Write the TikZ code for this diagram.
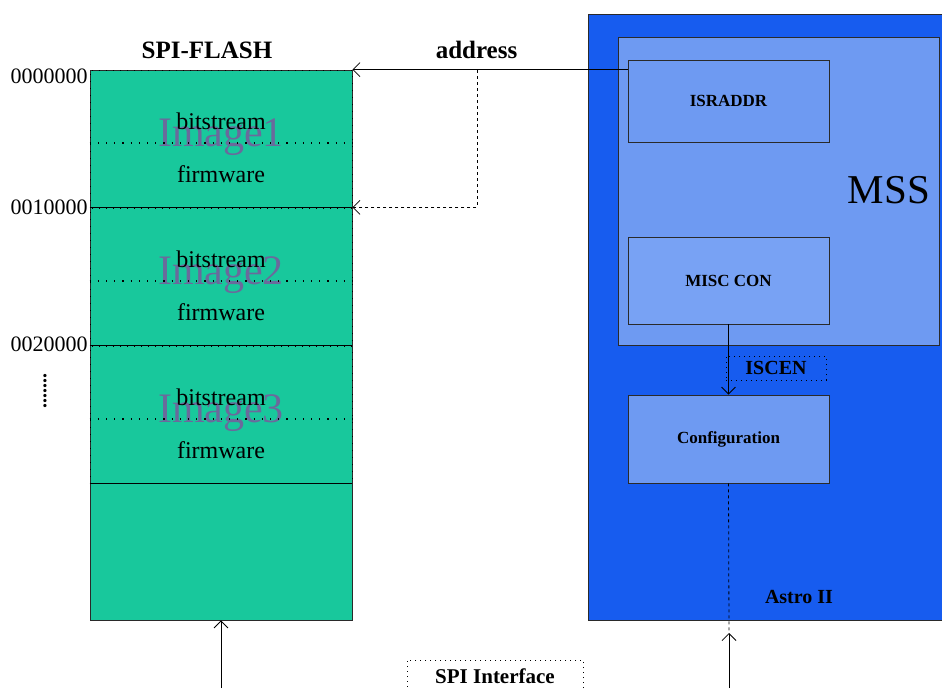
\documentclass[tikz,border=0pt]{standalone}
\usepackage{fontspec}
\setmainfont{Liberation Serif}
\usepackage{xcolor}
\usetikzlibrary{arrows.meta}

\definecolor{flashgreen}{HTML}{18C89C}
\definecolor{astroblue}{HTML}{175CEF}
\definecolor{mssblue}{HTML}{6E9AF2}
\definecolor{miscblue}{HTML}{78A2F4}
\definecolor{imggray}{HTML}{6A6A9C}
\definecolor{edgegray}{HTML}{2A2A2A}

\newcommand{\fs}[1]{\fontsize{#1}{#1}\selectfont}

\tikzset{
  barb/.style={-{Straight Barb[length=7pt,width=14pt,line width=0.8pt]}},
  block/.style={draw=edgegray, fill=mssblue, minimum width=201pt, minimum height=#1, inner sep=0pt, font=\fs{17}\bfseries},
  imgblock/.style={draw=black, dash pattern=on 1pt off 6pt, minimum width=262pt, minimum height=137pt, inner sep=0pt},
  tag/.style={draw=black, dash pattern=on 1pt off 4pt, inner sep=0pt, font=\fs{20}\bfseries},
  sparsedots/.style={line width=1.2pt, dash pattern=on 1.2pt off 7pt}
}

\begin{document}
\begin{tikzpicture}[x=1pt, y=-1pt, line width=0.8pt]
\useasboundingbox (0,0) rectangle (942,688);

% flash memory
\node[draw=edgegray, fill=flashgreen, minimum width=262pt, minimum height=550pt, inner sep=0pt] (flash) at (221,345) {};
\node[font=\fs{25}\bfseries] (flashtitle) at (207,50) {SPI-FLASH};

\foreach \i/\y in {1/138.5, 2/276.5, 3/414.5}{
  \node[imgblock] (img\i) at (221,\y) {};
  \node[text=imggray, font=\fs{42}] (imgname\i) at (221,\y-1.5) {Image\i};
  \draw[sparsedots] ([yshift=-4.5pt]img\i.west) -- ([yshift=-4.5pt]img\i.east);
  \draw (img\i.south west) -- (img\i.south east);
  \node[font=\fs{24}] (bits\i) at (221,\y-17.5) {bitstream};
  \node[font=\fs{24}] (firm\i) at (221,\y+35.5) {firmware};
}

\foreach \a/\y in {0000000/76, 0010000/207, 0020000/344}
  \node[anchor=east, font=\fs{22}, inner sep=1pt] (addr\y) at (89,\y) {\a};
\node[rotate=90, font=\fs{20}\bfseries] (more) at (45,391) {.......};

% Astro II device
\node[draw=edgegray, fill=astroblue, minimum width=356pt, minimum height=606pt, inner sep=0pt] (astro) at (766,317) {};
\node[font=\fs{20}\bfseries] (astrolabel) at (799,597) {Astro II};
\node[draw=edgegray, fill=mssblue, minimum width=321pt, minimum height=308pt, inner sep=0pt] (mss) at (778.5,191) {};
\node[font=\fs{41}] (msslabel) at (889,190) {MSS};

\node[block=82pt] (isr) at (728.5,101) {ISRADDR};
\node[block=87pt, fill=miscblue] (misc) at (728.5,280.5) {MISC CON};
\node[block=88pt] (conf) at (728.5,439) {Configuration};
\node[tag, minimum width=100pt, minimum height=24pt] (iscen) at (776,368) {ISCEN};

% connections
\draw[barb] (flash.north east -| isr.west) -- (flash.north east);
\node[font=\fs{25}\bfseries] (addrlabel) at (476.5,50) {address};
\coordinate (tap) at (477,70);
\draw[barb, dashed] (tap) |- (img1.south east);

\draw[barb] (misc.south) -- (conf.north);

\coordinate (spiin) at (729,633);
\coordinate (astrobot) at (729,688);
\coordinate (flashbot) at (221,688);
\draw[dashed] (conf.south) -- (spiin);
\draw[barb] (astrobot) -- (spiin);
\draw[barb] (flashbot) -- (flash.south);

\node[tag, font=\fs{21}\bfseries, minimum width=176pt, minimum height=32pt] (spibus) at (495,676) {SPI Interface};
\end{tikzpicture}
\end{document}
